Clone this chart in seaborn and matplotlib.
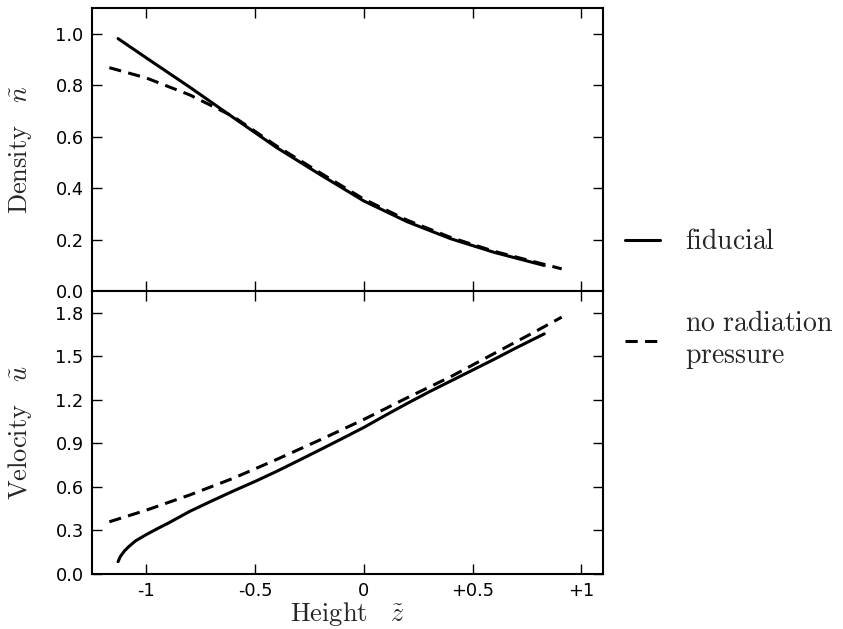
import numpy as np
import pandas as pd
import matplotlib
matplotlib.use("Agg")
import matplotlib.pyplot as plt
import seaborn as sns
from matplotlib.lines import Line2D

# ---- data ----
dens_fid_x = [-1.13, -1.0, -0.8, -0.6, -0.4, -0.2, 0.0, 0.2, 0.4, 0.6, 0.83]
dens_fid_y = [0.981, 0.906, 0.792, 0.674, 0.557, 0.452, 0.350, 0.269, 0.203, 0.150, 0.099]

dens_norad_x = [-1.17, -1.0, -0.8, -0.6, -0.4, -0.2, 0.0, 0.2, 0.4, 0.6, 0.8, 0.91]
dens_norad_y = [0.868, 0.828, 0.762, 0.678, 0.563, 0.459, 0.357, 0.275, 0.208, 0.154, 0.110, 0.086]

vel_fid_x = [-1.13, -1.12, -1.10, -1.08, -1.05, -1.0, -0.95, -0.9, -0.8, -0.7, -0.6, -0.5,
             -0.4, -0.3, -0.2, -0.1, 0.0, 0.1, 0.2, 0.3, 0.4, 0.5, 0.6, 0.7, 0.83]
vel_fid_y = [0.085, 0.12, 0.16, 0.19, 0.228, 0.272, 0.312, 0.35, 0.432, 0.503, 0.572, 0.638,
             0.708, 0.782, 0.857, 0.933, 1.01, 1.094, 1.176, 1.255, 1.33, 1.405, 1.48, 1.558, 1.655]

vel_norad_x = [-1.17, -1.0, -0.8, -0.6, -0.4, -0.2, 0.0, 0.2, 0.4, 0.6, 0.8, 0.91]
vel_norad_y = [0.36, 0.44, 0.545, 0.66, 0.79, 0.925, 1.065, 1.215, 1.36, 1.52, 1.68, 1.77]

x_ticks = [-1, -0.5, 0, 0.5, 1]
x_ticklabels = ["-1", "-0.5", "0", "+0.5", "+1"]
dens_ticks = [0.0, 0.2, 0.4, 0.6, 0.8, 1.0]
vel_ticks = [0.0, 0.3, 0.6, 0.9, 1.2, 1.5, 1.8]

sns.set_style("ticks")
plt.rcParams["font.family"] = ["DejaVu Sans"]
plt.rcParams["mathtext.fontset"] = "cm"

fig = plt.figure(figsize=(8.43, 6.29), dpi=100)
ax1 = fig.add_axes([0.1091, 0.5374, 0.6062, 0.4499])
ax2 = fig.add_axes([0.1091, 0.0874, 0.6062, 0.4499])

lw = 2.2
dash = (4, 2.4)

sns.lineplot(x=dens_fid_x, y=dens_fid_y, ax=ax1, color="black", lw=lw, sort=False)
sns.lineplot(x=dens_norad_x, y=dens_norad_y, ax=ax1, color="black", lw=lw,
             linestyle=(0, dash), sort=False)
sns.lineplot(x=vel_fid_x, y=vel_fid_y, ax=ax2, color="black", lw=lw, sort=False)
sns.lineplot(x=vel_norad_x, y=vel_norad_y, ax=ax2, color="black", lw=lw,
             linestyle=(0, dash), sort=False)

for ax in (ax1, ax2):
    ax.set_xlim(-1.25, 1.1)
    ax.set_xticks(x_ticks)
    for s in ax.spines.values():
        s.set_visible(True)
        s.set_linewidth(1.5)
        s.set_color("black")
    ax.tick_params(direction="in", top=True, right=True, length=7, width=1,
                   labelsize=12.8, colors="black", pad=6)

ax1.set_ylim(0, 1.1)
ax1.set_yticks(dens_ticks)
ax1.set_yticklabels([f"{v:.1f}" for v in dens_ticks])
ax1.tick_params(labelbottom=False)

ax2.set_ylim(0, 1.95)
ax2.set_yticks(vel_ticks)
ax2.set_yticklabels([f"{v:.1f}" for v in vel_ticks])
ax2.set_xticklabels(x_ticklabels)

ax1.set_ylabel(r"$\mathrm{Density}\quad\tilde{n}$", fontsize=19)
ax2.set_ylabel(r"$\mathrm{Velocity}\quad\tilde{u}$", fontsize=19)
ax1.yaxis.set_label_coords(-0.113, 0.5)
ax2.yaxis.set_label_coords(-0.113, 0.5)
ax2.set_xlabel(r"$\mathrm{Height}\quad\tilde{z}$", fontsize=19, labelpad=0)

handles = [Line2D([], [], color="black", lw=lw),
           Line2D([], [], color="black", lw=lw, linestyle=(0, dash))]
labels = [r"$\mathrm{fiducial}$", "$\\mathrm{no\\ radiation}$\n$\\mathrm{pressure}$"]
fig.legend(handles, labels, loc="center left", bbox_to_anchor=(0.712, 0.524),
           frameon=False, fontsize=20, handlelength=1.25, labelspacing=1.93,
           handletextpad=0.9)

fig.savefig("out.png", dpi=100)
